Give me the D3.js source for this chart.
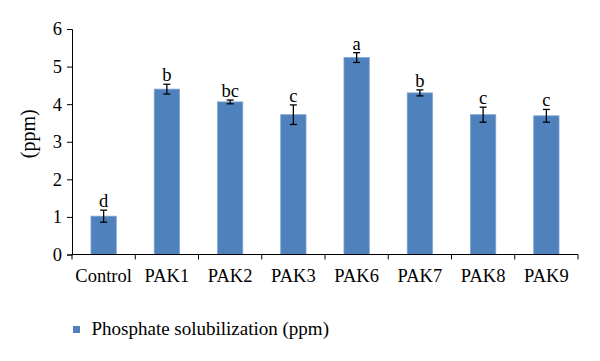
<!DOCTYPE html>
<html>
<head>
<meta charset="utf-8">
<script src="https://cdn.jsdelivr.net/npm/d3@7"></script>
<style>
  html, body { margin: 0; padding: 0; background: #fff; }
  svg { display: block; }
  text { font-family: "Liberation Serif", "DejaVu Serif", serif; fill: #000; }
</style>
</head>
<body>
<svg id="chart" width="600" height="361"></svg>
<script>
const categories = ["Control", "PAK1", "PAK2", "PAK3", "PAK6", "PAK7", "PAK8", "PAK9"];
const values = [1.02, 4.40, 4.06, 3.72, 5.24, 4.30, 3.72, 3.69];
const errors = [0.16, 0.13, 0.05, 0.26, 0.13, 0.08, 0.20, 0.17];
const letters = ["d", "b", "bc", "c", "a", "b", "c", "c"];
const yTicks = [0, 1, 2, 3, 4, 5, 6];
const seriesName = "Phosphate solubilization (ppm)";
const yLabel = "(ppm)";

const svg = d3.select("#chart");
const m = { left: 72, right: 22, top: 29, bottom: 106.5 };
const W = 600, H = 361;
const FS = 18.5;

const x = d3.scaleBand().domain(categories).range([m.left, W - m.right]).paddingInner(0.6).paddingOuter(0.3);
const xb = d3.scaleBand().domain(categories).range([m.left, W - m.right]);
const y = d3.scaleLinear().domain([0, 6]).range([H - m.bottom, m.top]);

const blue = "#4F81BD";

// bars
svg.append("g").selectAll("rect").data(categories).join("rect")
  .attr("x", d => x(d))
  .attr("width", x.bandwidth())
  .attr("y", (d, i) => y(values[i]))
  .attr("height", (d, i) => y(0) - y(values[i]))
  .attr("fill", blue)
  .attr("stroke", "#7FA3D1")
  .attr("stroke-width", 0.8);

// error bars
const eg = svg.append("g").attr("stroke", "#000").attr("stroke-width", 1.3);
categories.forEach((c, i) => {
  const cx = x(c) + x.bandwidth() / 2;
  const t = y(values[i] + errors[i]), b = y(values[i] - errors[i]);
  eg.append("line").attr("x1", cx).attr("x2", cx).attr("y1", t).attr("y2", b);
  eg.append("line").attr("x1", cx - 3.5).attr("x2", cx + 3.5).attr("y1", t).attr("y2", t);
  eg.append("line").attr("x1", cx - 3.5).attr("x2", cx + 3.5).attr("y1", b).attr("y2", b);
});

// letters
svg.append("g").selectAll("text").data(categories).join("text")
  .attr("x", d => x(d) + x.bandwidth() / 2)
  .attr("y", (d, i) => y(values[i] + errors[i]) - 3)
  .attr("text-anchor", "middle")
  .attr("font-size", FS)
  .text((d, i) => letters[i]);

// y axis
const yAxis = svg.append("g").attr("transform", `translate(${m.left},0)`)
  .call(d3.axisLeft(y).tickValues(yTicks).tickSize(5).tickPadding(5).tickFormat(d3.format("d")));
yAxis.attr("font-size", FS).attr("font-family", '"Liberation Serif", serif');
yAxis.selectAll("text").attr("font-size", FS);
yAxis.select(".domain").attr("stroke", "#000");
yAxis.selectAll(".tick line").attr("stroke", "#000");

// x axis
const xAxisG = svg.append("g").attr("transform", `translate(0,${y(0)})`);
xAxisG.append("line").attr("x1", m.left).attr("x2", W - m.right).attr("stroke", "#000");
const bounds = categories.map(c => xb(c)).concat([W - m.right]);
xAxisG.selectAll("line.tk").data(bounds).join("line").attr("class", "tk")
  .attr("x1", d => d).attr("x2", d => d).attr("y1", 0).attr("y2", 5).attr("stroke", "#000");
xAxisG.selectAll("text").data(categories).join("text")
  .attr("x", d => xb(d) + xb.bandwidth() / 2)
  .attr("y", 27.5)
  .attr("text-anchor", "middle")
  .attr("font-size", FS)
  .text(d => d);

// y label
svg.append("text")
  .attr("transform", `translate(35,${(y(0) + y(6)) / 2 - 8}) rotate(-90)`)
  .attr("text-anchor", "middle")
  .attr("font-size", 20)
  .text(yLabel);

// legend
svg.append("rect").attr("x", 73).attr("y", 326).attr("width", 7).attr("height", 7).attr("fill", blue);
svg.append("text").attr("x", 91.5).attr("y", 335).attr("font-size", 19).text(seriesName);
</script>
</body>
</html>
